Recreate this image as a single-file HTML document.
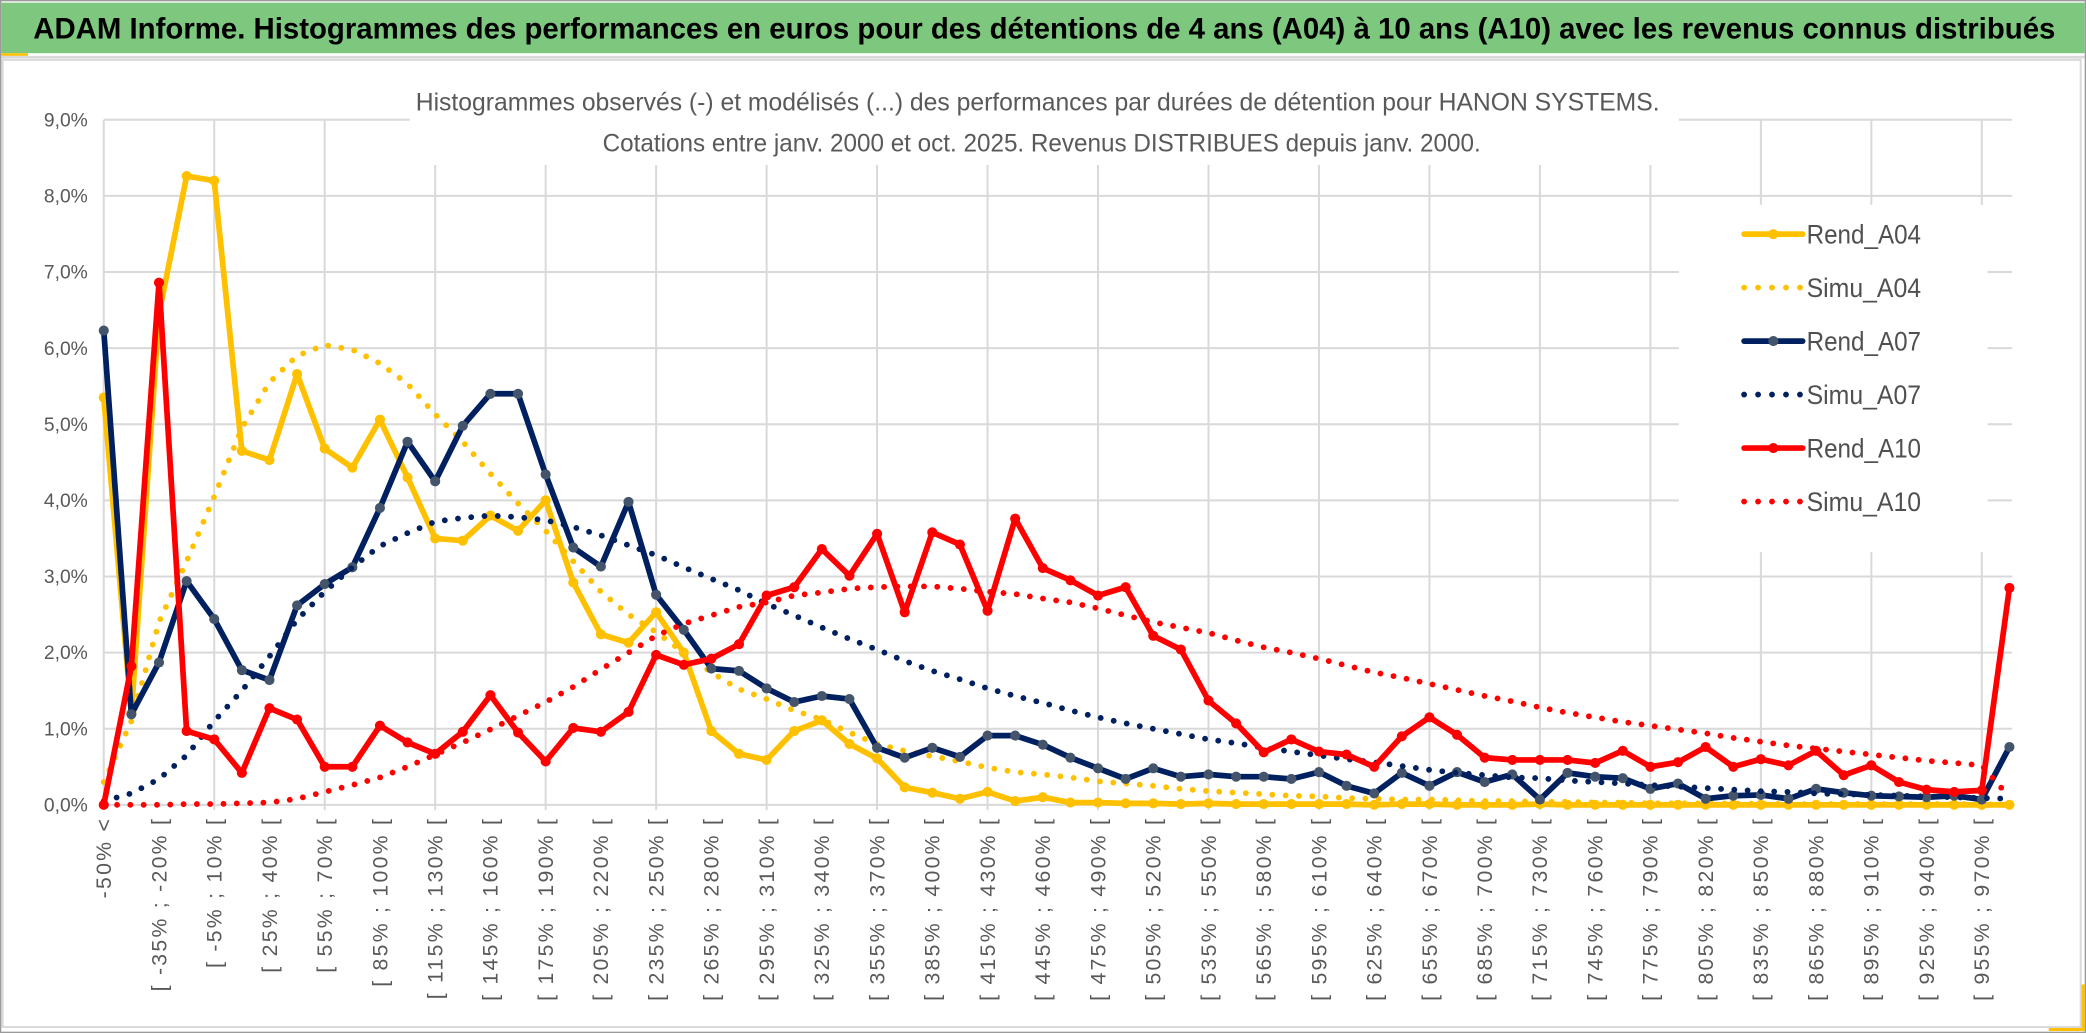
<!DOCTYPE html>
<html><head><meta charset="utf-8"><style>
html,body{margin:0;padding:0;background:#fff;}
svg{display:block;}
text{font-family:"Liberation Sans",sans-serif;}
</style></head><body>
<svg id="chart" width="2086" height="1033" viewBox="0 0 1568 776.5" preserveAspectRatio="none" xmlns="http://www.w3.org/2000/svg">
<rect x="0" y="0" width="1568" height="776.5" fill="#fff"/>
<rect x="0.5" y="0.5" width="1567" height="775.5" fill="none" stroke="#9a9a9a" stroke-width="1"/>
<rect x="1" y="2" width="1566" height="38" fill="#7dc77f"/>
<text x="25" y="29" font-size="22.5" font-weight="bold" fill="#000" textLength="1520" lengthAdjust="spacingAndGlyphs">ADAM Informe. Histogrammes des performances en euros pour des détentions de 4 ans (A04) à 10 ans (A10) avec les revenus connus distribués</text>
<rect x="1" y="40" width="20" height="2" fill="#ffc000"/>
<line x1="1" y1="43" x2="1567" y2="43" stroke="#d9d9d9" stroke-width="2"/>
<rect x="1555" y="740" width="12" height="35" fill="#ffc000"/>
<rect x="1540" y="764" width="27" height="11" fill="#ffc000"/>
<rect x="2" y="45" width="1562" height="727" fill="#fff" stroke="#d9d9d9" stroke-width="1.5"/>
<g id="grid"></g>
<g id="yaxis"></g>
<g id="xaxis"></g>
<g id="series"></g>
<rect x="308" y="58" width="954" height="66" fill="#fff"/>
<text x="780" y="83" font-size="18.5" fill="#595959" text-anchor="middle" textLength="935" lengthAdjust="spacingAndGlyphs">Histogrammes observés (-) et modélisés (...) des performances par durées de détention pour HANON SYSTEMS.</text>
<text x="783" y="114" font-size="18.5" fill="#595959" text-anchor="middle" textLength="660" lengthAdjust="spacingAndGlyphs">Cotations entre janv. 2000 et oct. 2025. Revenus DISTRIBUES depuis janv. 2000.</text>
<rect x="1262" y="154" width="232" height="261" fill="#fff"/>
<g id="legend"></g>
</svg>
<script>
const categoriesShown = ["-50% <","[ -35% ; -20% [","[ -5% ; 10% [","[ 25% ; 40% [","[ 55% ; 70% [","[ 85% ; 100% [","[ 115% ; 130% [","[ 145% ; 160% [","[ 175% ; 190% [","[ 205% ; 220% [","[ 235% ; 250% [","[ 265% ; 280% [","[ 295% ; 310% [","[ 325% ; 340% [","[ 355% ; 370% [","[ 385% ; 400% [","[ 415% ; 430% [","[ 445% ; 460% [","[ 475% ; 490% [","[ 505% ; 520% [","[ 535% ; 550% [","[ 565% ; 580% [","[ 595% ; 610% [","[ 625% ; 640% [","[ 655% ; 670% [","[ 685% ; 700% [","[ 715% ; 730% [","[ 745% ; 760% [","[ 775% ; 790% [","[ 805% ; 820% [","[ 835% ; 850% [","[ 865% ; 880% [","[ 895% ; 910% [","[ 925% ; 940% [","[ 955% ; 970% ["];
const yTickLabels = ["0,0%","1,0%","2,0%","3,0%","4,0%","5,0%","6,0%","7,0%","8,0%","9,0%"];
const rendA04 = [5.35,1.20,6.45,8.26,8.20,4.65,4.53,5.66,4.68,4.43,
5.06,4.30,3.50,3.47,3.80,3.60,4.00,2.92,2.24,2.13,
2.53,2.00,0.97,0.67,0.59,0.97,1.11,0.80,0.61,0.23,
0.16,0.08,0.17,0.05,0.10,0.03,0.03,0.02,0.02,0.01,
0.02,0.01,0.01,0.01,0.01,0.01,0.00,0.01,0.01,0.00,
0,0,0.01,0,0,0,0,0,0,0,
0,0,0,0,0,0,0,0,0,0];
const simuA04 = [0.30,1.10,2.40,3.20,4.05,4.95,5.55,5.90,6.04,5.98,
5.80,5.53,5.13,4.77,4.35,3.96,3.60,3.20,2.80,2.50,
2.27,2.00,1.74,1.52,1.39,1.24,1.12,0.95,0.80,0.71,
0.64,0.57,0.49,0.43,0.40,0.36,0.31,0.28,0.25,0.21,
0.18,0.16,0.14,0.12,0.11,0.09,0.08,0.07,0.07,0.06,
0.05,0.05,0.04,0.04,0.03,0.03,0.02,0.02,0.02,0.015,
0.015,0.01,0.01,0.01,0.01,0.01,0.01,0.01,0.01,0.0];
const rendA07 = [6.23,1.19,1.87,2.94,2.44,1.77,1.64,2.62,2.90,3.12,
3.90,4.77,4.25,4.98,5.40,5.40,4.34,3.38,3.13,3.98,
2.76,2.30,1.79,1.76,1.53,1.35,1.43,1.39,0.75,0.62,
0.75,0.63,0.91,0.91,0.79,0.62,0.48,0.34,0.48,0.37,
0.40,0.37,0.37,0.34,0.43,0.25,0.15,0.42,0.25,0.43,
0.30,0.40,0.07,0.42,0.37,0.35,0.21,0.28,0.08,0.12,
0.13,0.08,0.21,0.16,0.12,0.11,0.10,0.12,0.07,0.76];
const simuA07 = [0.05,0.15,0.34,0.65,1.10,1.50,1.95,2.43,2.80,3.12,
3.40,3.57,3.72,3.77,3.80,3.78,3.74,3.65,3.54,3.41,
3.28,3.12,2.97,2.82,2.64,2.49,2.33,2.18,2.04,1.89,
1.76,1.65,1.53,1.43,1.34,1.24,1.15,1.07,1.00,0.93,
0.86,0.81,0.75,0.70,0.65,0.60,0.56,0.51,0.46,0.42,
0.39,0.36,0.35,0.32,0.30,0.28,0.26,0.24,0.22,0.20,
0.18,0.17,0.15,0.14,0.13,0.12,0.11,0.10,0.09,0.08];
const rendA10 = [0,1.82,6.86,0.97,0.86,0.42,1.27,1.12,0.50,0.50,
1.04,0.82,0.67,0.96,1.44,0.95,0.57,1.01,0.96,1.22,
1.97,1.84,1.92,2.11,2.75,2.86,3.36,3.01,3.56,2.53,
3.58,3.42,2.55,3.76,3.11,2.95,2.75,2.86,2.22,2.04,
1.37,1.07,0.69,0.86,0.70,0.66,0.50,0.90,1.15,0.92,
0.62,0.59,0.59,0.59,0.55,0.71,0.50,0.56,0.76,0.50,
0.60,0.52,0.71,0.39,0.52,0.30,0.20,0.17,0.19,2.85];
const simuA10 = [0,0,0,0.01,0.01,0.02,0.03,0.08,0.17,0.26,
0.36,0.50,0.66,0.82,0.99,1.17,1.35,1.55,1.78,2.00,
2.22,2.38,2.49,2.60,2.66,2.75,2.79,2.84,2.86,2.87,
2.87,2.84,2.80,2.77,2.71,2.66,2.58,2.49,2.40,2.33,
2.26,2.16,2.07,2.00,1.92,1.83,1.74,1.67,1.59,1.51,
1.43,1.36,1.28,1.21,1.15,1.09,1.04,0.99,0.94,0.88,
0.83,0.78,0.74,0.70,0.66,0.62,0.58,0.55,0.52,0.10];

const NS = "http://www.w3.org/2000/svg";
const X0 = 78, STEP = 20.76, Y0 = 605, PER = 57.22;
const xScale = i => X0 + i * STEP;
const yScale = v => Y0 - v * PER;
function mk(tag, attrs, parent) {
  const el = document.createElementNS(NS, tag);
  for (const k in attrs) el.setAttribute(k, attrs[k]);
  parent.appendChild(el);
  return el;
}
const grid = document.getElementById('grid');
const yaxis = document.getElementById('yaxis');
const xaxis = document.getElementById('xaxis');
const series = document.getElementById('series');
const legend = document.getElementById('legend');
const nPts = rendA04.length;
const xEnd = xScale(nPts - 1) + 2;

yTickLabels.forEach((lab, k) => {
  const y = yScale(k);
  const ln = mk('line', {x1: X0, x2: xEnd, y1: y, y2: y, stroke: '#d9d9d9', 'stroke-width': 1.5}, grid);
  
  
  const t = mk('text', {x: 66, y: y + 5, 'font-size': 14.5, fill: '#595959', 'text-anchor': 'end'}, yaxis);
  t.textContent = lab;
  
  
});
for (let i = 0; i < nPts; i += 4) {
  const x = xScale(i);
  const ln = mk('line', {x1: x, x2: x, y1: yScale(9), y2: Y0 + 4, stroke: '#d9d9d9', 'stroke-width': 1.5}, grid);
  
  
}
categoriesShown.forEach((lab, k) => {
  const x = xScale(k * 2);
  const t = mk('text', {x: 0, y: 0, 'font-size': 16, 'letter-spacing': 1.7, fill: '#595959', 'text-anchor': 'end',
    transform: `translate(${x + 5.5},${614}) rotate(-90)`}, xaxis);
  t.textContent = lab;
  
  
});

function pathFor(arr) {
  return arr.map((v, i) => (i ? 'L' : 'M') + xScale(i).toFixed(2) + ',' + yScale(v).toFixed(2)).join(' ');
}
function drawRend(arr, color, markerColor, name) {
  const g = mk('g', {}, series);
  
  
  const p = mk('path', {d: pathFor(arr), fill: 'none', stroke: color, 'stroke-width': 4.3, 'stroke-linejoin': 'round', 'stroke-linecap': 'round'}, g);
  
  
  arr.forEach((v, i) => {
    const c = mk('circle', {cx: xScale(i), cy: yScale(v), r: 3.8, fill: markerColor}, g);
    
    
  });
}
function drawSimu(arr, color, name) {
  const p = mk('path', {d: pathFor(arr), fill: 'none', stroke: color, 'stroke-width': 4.4, 'stroke-dasharray': '0 10', 'stroke-linecap': 'round', 'stroke-linejoin': 'round'}, series);
  
  
}
drawRend(rendA04, '#ffc000', '#ffc000', 'rend-a04');
drawSimu(simuA04, '#ffc000', 'simu-a04');
drawRend(rendA07, '#002060', '#44546a', 'rend-a07');
drawSimu(simuA07, '#002060', 'simu-a07');
drawRend(rendA10, '#ff0000', '#ff0000', 'rend-a10');
drawSimu(simuA10, '#ff0000', 'simu-a10');

const legendNames = ["Rend_A04","Simu_A04","Rend_A07","Simu_A07","Rend_A10","Simu_A10"];
const legendColors = ['#ffc000','#ffc000','#002060','#002060','#ff0000','#ff0000'];
const legendMarker = ['#ffc000',null,'#44546a',null,'#ff0000',null];
legendNames.forEach((nm, k) => {
  const y = 176 + k * 40.2;
  const g = mk('g', {}, legend);
  
  
  if (legendMarker[k]) {
    mk('line', {x1: 1311, x2: 1355, y1: y, y2: y, stroke: legendColors[k], 'stroke-width': 4.3, 'stroke-linecap': 'round'}, g);
    mk('circle', {cx: 1333, cy: y, r: 3.8, fill: legendMarker[k]}, g);
  } else {
    mk('line', {x1: 1311, x2: 1357, y1: y, y2: y, stroke: legendColors[k], 'stroke-width': 4.4, 'stroke-dasharray': '0 10.5', 'stroke-linecap': 'round'}, g);
  }
  const t = mk('text', {x: 1358, y: y + 7, 'font-size': 20, fill: '#505050', textLength: 86, lengthAdjust: 'spacingAndGlyphs'}, g);
  t.textContent = nm;
  
  
});
</script>
</body></html>
